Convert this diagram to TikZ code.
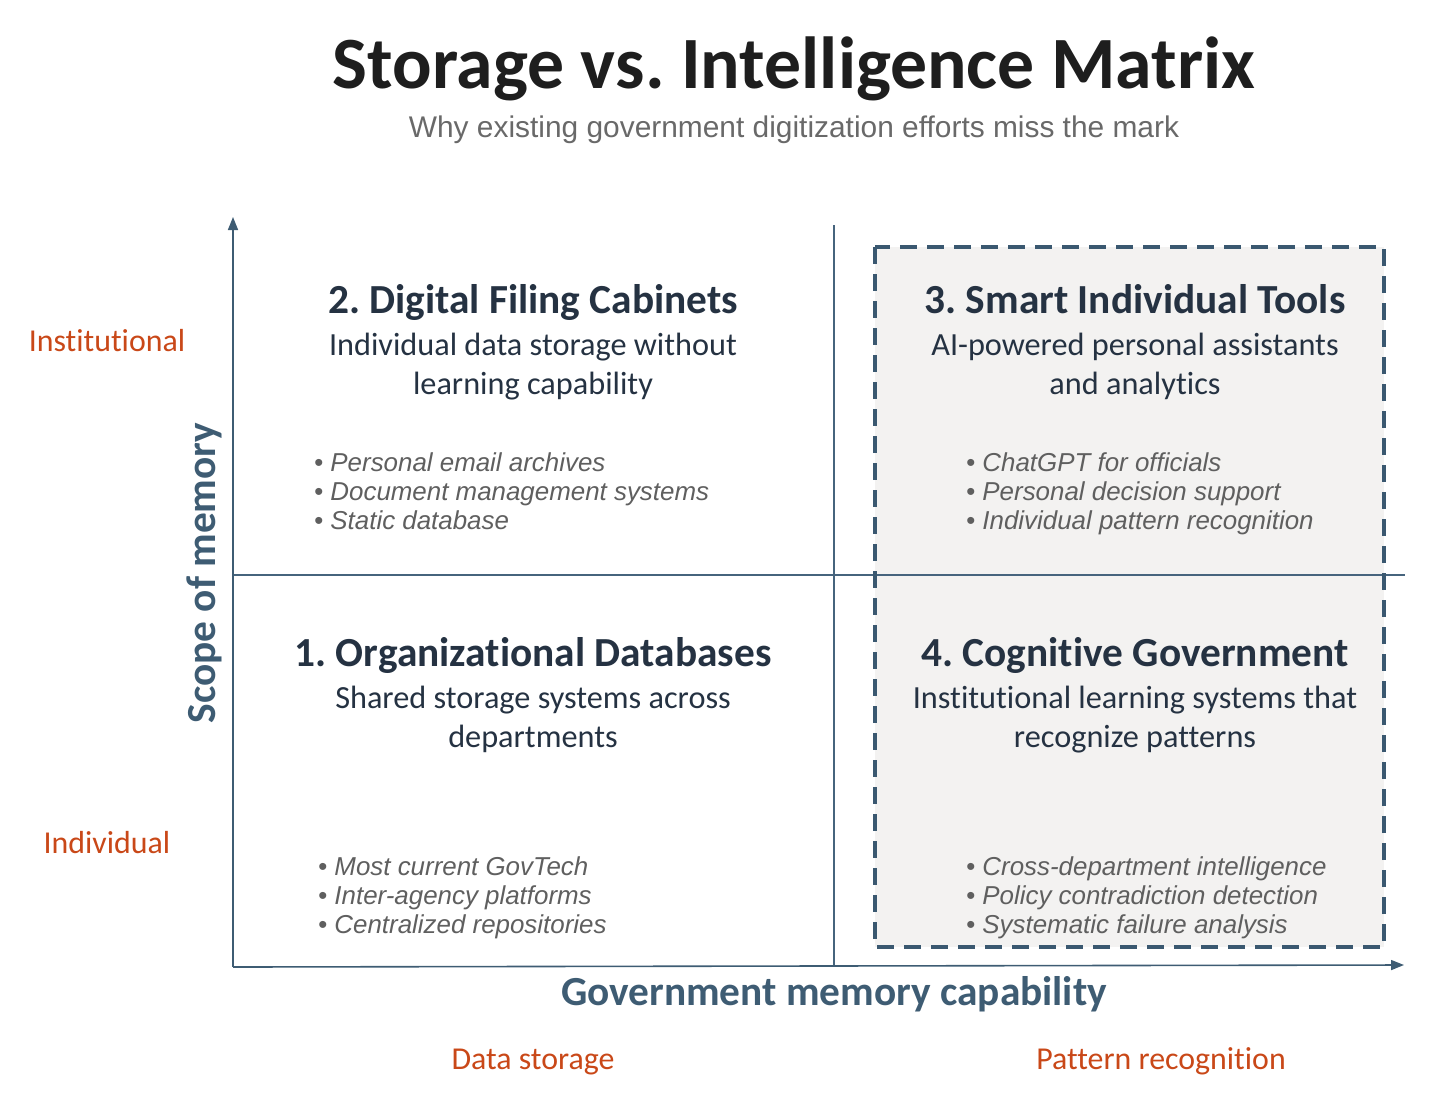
\documentclass[tikz,border=0pt]{standalone}
\usepackage{fontspec}
\setmainfont[RawFeature=-liga]{Carlito}
\newfontfamily\arialfont{Liberation Sans}
\usetikzlibrary{arrows.meta}
\definecolor{titlecol}{RGB}{30, 30, 30}
\definecolor{subcol}  {RGB}{105, 105, 105}
\definecolor{headcol} {RGB}{37, 50, 66}
\definecolor{axiscol} {RGB}{62, 92, 115}
\definecolor{linecol} {RGB}{70, 100, 125}
\definecolor{dashcol} {RGB}{58, 88, 112}
\definecolor{fillcol} {RGB}{243, 242, 241}
\definecolor{levelcol}{RGB}{201, 72, 24}
\definecolor{itemcol} {RGB}{95, 95, 95}
\frenchspacing

\begin{document}
\begin{tikzpicture}[x=1bp, y=-1bp, >={Triangle[length=13bp,width=10bp]},
  every node/.style={inner sep=0pt, anchor=base},
  maintitle/.style={font=\fontsize{74}{80}\selectfont\bfseries, text=titlecol},
  subtitle/.style={font=\arialfont\fontsize{30}{34}\selectfont, text=subcol},
  quadhead/.style={font=\fontsize{41.5}{46}\selectfont\bfseries, text=headcol},
  quadtext/.style={font=\fontsize{32.4}{38}\selectfont, text=headcol},
  item/.style={font=\arialfont\itshape\fontsize{26}{29}\selectfont, text=itemcol, anchor=base west},
  level/.style={font=\fontsize{32}{38}\selectfont, text=levelcol},
  axislabel/.style={font=\fontsize{41.5}{46}\selectfont\bfseries, text=axiscol},
]
\useasboundingbox (0,0) rectangle (1456,1098);

% ── title ─────────────────────────────────────────────────────
\node[maintitle] (title) at (794, 88) {Storage vs. Intelligence Matrix};
\node[subtitle] (sub) at (794, 137)
  {Why existing government digitization efforts miss the mark};

% ── highlighted column (3 + 4) ───────────────────────────────
\coordinate (hlnw) at (875, 247);
\coordinate (hlse) at (1384, 947);
\fill[fillcol] (hlnw) rectangle (hlse);

% ── axes and grid ─────────────────────────────────────────────
\coordinate (origin) at (233, 967);
\coordinate (ytip)   at (233, 217);
\coordinate (xtip)   at (1404, 965);
\coordinate (vtop)   at (834, 225);
\coordinate (vbot)   at (834, 966);
\coordinate (hleft)  at (233, 575);
\coordinate (hright) at (1405, 575);

\draw[linecol, line width=1.4bp] (vtop) -- (vbot);
\draw[linecol, line width=1.4bp] (hleft) -- (hright);
\draw[->, axiscol, line width=1.6bp] (origin) -- (ytip);
\draw[->, axiscol, line width=1.6bp] (origin) -- (xtip);

\draw[dashcol, line width=4bp, dash pattern=on 17bp off 10bp] (hlnw) rectangle (hlse);

% ── quadrant 2 ────────────────────────────────────────────────
\node[quadhead] (q2head) at (533, 313) {2. Digital Filing Cabinets};
\node[quadtext] (q2sa) at (533, 355) {Individual data storage without};
\node[quadtext] (q2sb) at (533, 394) {learning capability};
\foreach \txt [count=\i] in {Personal email archives, Document management systems, Static database}
  \node[item] (q2b\i) at (314, {442+29*\i}) {• \txt};

% ── quadrant 3 ────────────────────────────────────────────────
\node[quadhead] (q3head) at (1135, 313) {3. Smart Individual Tools};
\node[quadtext] (q3sa) at (1135, 355) {AI-powered personal assistants};
\node[quadtext] (q3sb) at (1135, 394) {and analytics};
\foreach \txt [count=\i] in {ChatGPT for officials, Personal decision support, Individual pattern recognition}
  \node[item] (q3b\i) at (966, {442+29*\i}) {• \txt};

% ── quadrant 1 ────────────────────────────────────────────────
\node[quadhead] (q1head) at (533, 666) {1. Organizational Databases};
\node[quadtext] (q1sa) at (533, 708) {Shared storage systems across};
\node[quadtext] (q1sb) at (533, 747) {departments};
\foreach \txt [count=\i] in {Most current GovTech, Inter-agency platforms, Centralized repositories}
  \node[item] (q1b\i) at (318, {846+29*\i}) {• \txt};

% ── quadrant 4 ────────────────────────────────────────────────
\node[quadhead] (q4head) at (1135, 666) {4. Cognitive Government};
\node[quadtext] (q4sa) at (1135, 708) {Institutional learning systems that};
\node[quadtext] (q4sb) at (1135, 747) {recognize patterns};
\foreach \txt [count=\i] in {Cross-department intelligence, Policy contradiction detection, Systematic failure analysis}
  \node[item] (q4b\i) at (966, {846+29*\i}) {• \txt};

% ── axis labels ───────────────────────────────────────────────
\node[axislabel] (xlabel) at (834, 1005) {Government memory capability};
\node[axislabel, rotate=90] (ylabel) at (215, 573) {Scope of memory};

\node[level] (inst)  at (107, 351)  {Institutional};
\node[level] (indiv) at (107, 853)  {Individual};
\node[level] (store) at (533, 1069) {Data storage};
\node[level] (patt)  at (1161, 1069) {Pattern recognition};

\end{tikzpicture}
\end{document}
